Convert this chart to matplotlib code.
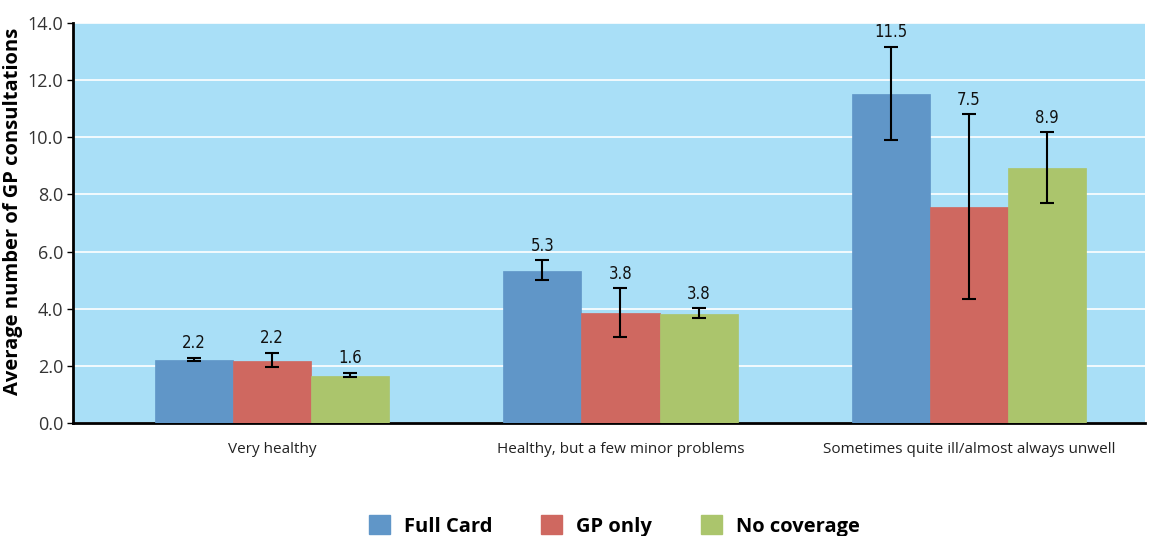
import numpy as np
import matplotlib
matplotlib.use("Agg")
import matplotlib.pyplot as plt
from matplotlib.patches import Patch

categories = ["Very healthy", "Healthy, but a few minor problems",
              "Sometimes quite ill/almost always unwell"]
series = ["Full Card", "GP only", "No coverage"]
colors = ["#6096C8", "#CF6860", "#ABC56C"]

full_card = [2.22, 5.33, 11.52]
gp_only = [2.18, 3.86, 7.55]
no_cover = [1.64, 3.82, 8.93]

full_lo = [2.17, 5.00, 9.90]
full_hi = [2.28, 5.70, 13.16]
gp_lo = [1.96, 3.01, 4.34]
gp_hi = [2.45, 4.72, 10.80]
no_lo = [1.61, 3.67, 7.70]
no_hi = [1.75, 4.02, 10.18]

labels = [["2.2", "5.3", "11.5"], ["2.2", "3.8", "7.5"], ["1.6", "3.8", "8.9"]]

values = [full_card, gp_only, no_cover]
lows = [full_lo, gp_lo, no_lo]
highs = [full_hi, gp_hi, no_hi]

plt.rcParams['font.family'] = ['Open Sans', 'DejaVu Sans']

fig = plt.figure(figsize=(11.55, 5.36), dpi=100)
ax = fig.add_axes([0.0632, 0.2108, 0.9281, 0.7462])
ax.set_facecolor("#A9DFF7")

x = np.arange(len(categories))
width = 0.224
for i, (vals, lo, hi) in enumerate(zip(values, lows, highs)):
    pos = x + (i - 1) * width
    vals = np.array(vals)
    yerr = [vals - np.array(lo), np.array(hi) - vals]
    ax.bar(pos, vals, width, color=colors[i], edgecolor=colors[i], linewidth=0.5,
           zorder=3)
    ax.errorbar(pos, vals, yerr=yerr, fmt='none', ecolor='black', elinewidth=1.5,
                capsize=5, capthick=1.5, zorder=4)
    for p, h, lab in zip(pos, hi, labels[i]):
        ax.annotate(lab, (p, h), xytext=(0, 4), textcoords='offset points',
                    ha='center', va='bottom', fontsize=12, family='DejaVu Sans',
                    fontstretch='condensed', color='#111111')

ax.set_xlim(-0.571, 2.505)
ax.set_ylim(0, 14)
ax.set_yticks(np.arange(0, 14.1, 2))
ax.set_yticklabels([f"{v:.1f}" for v in np.arange(0, 14.1, 2)])
ax.yaxis.grid(True, color='white', linewidth=1.2, zorder=0)
ax.set_axisbelow(True)
ax.set_xticks(x)
ax.set_xticklabels(categories, fontsize=11, color='#222222')
ax.tick_params(axis='x', length=0, pad=14)
ax.tick_params(axis='y', labelsize=13, length=4, width=1, direction='out',
               pad=3)
for t in ax.get_yticklabels():
    t.set_color('#333333')

for s in ['top', 'right']:
    ax.spines[s].set_visible(False)
ax.spines['left'].set_linewidth(2)
ax.spines['bottom'].set_linewidth(2)

ax.set_ylabel("Average number of GP consultations", fontsize=14.5,
              fontweight='bold', labelpad=3)
ax.yaxis.set_label_coords(-0.047, 0.53)

handles = [Patch(facecolor=c, edgecolor=c) for c in colors]
fig.legend(handles, series, loc='lower center', bbox_to_anchor=(0.532, -0.035),
           ncol=3, frameon=False, handlelength=1.05, handleheight=1.05,
           columnspacing=2.4, handletextpad=0.7,
           prop={'weight': 'bold', 'size': 14.5})

fig.savefig("out.png", dpi=100)
